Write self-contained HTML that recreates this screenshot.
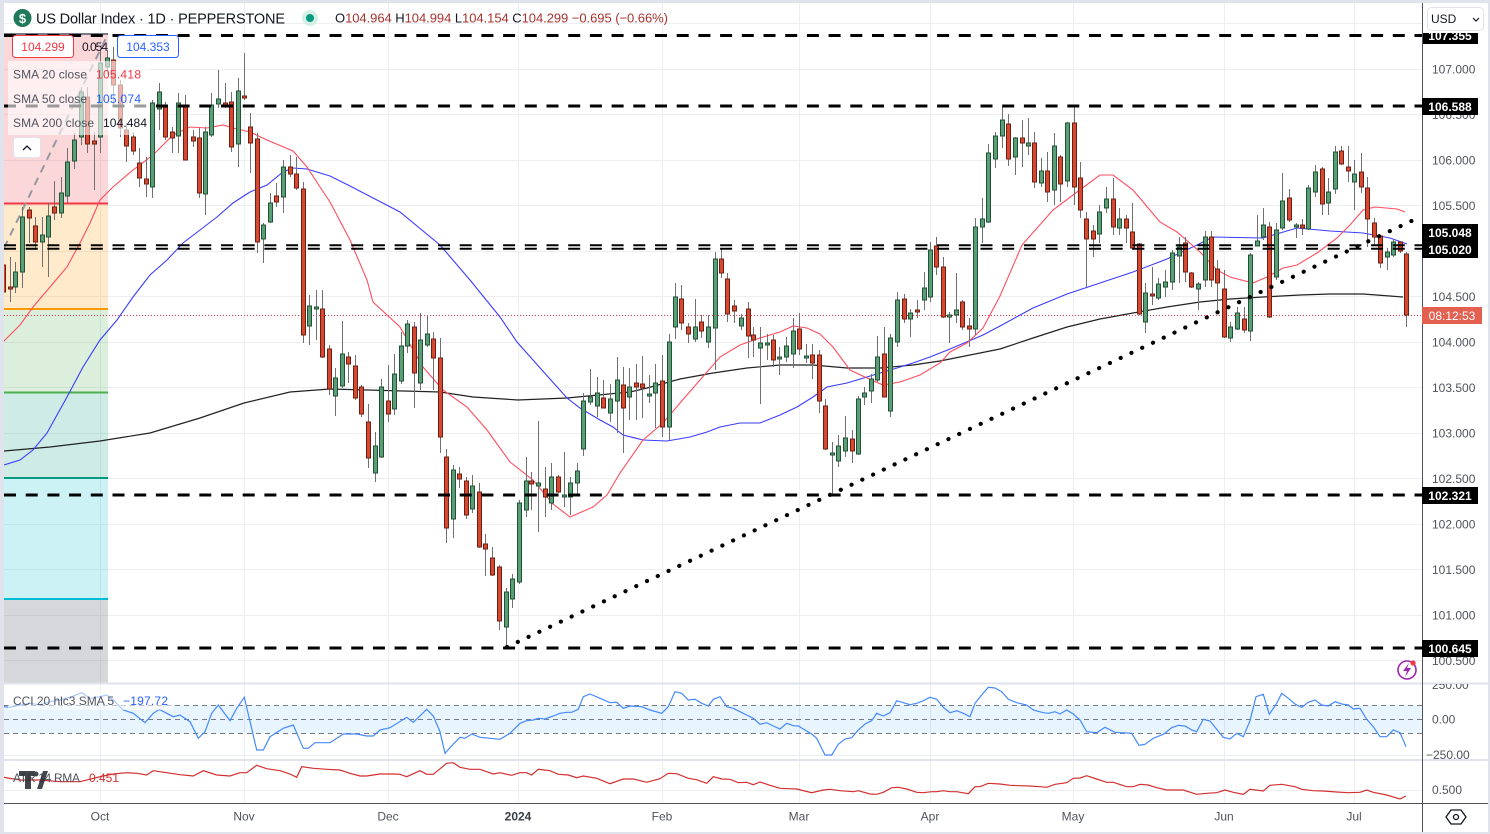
<!DOCTYPE html>
<html><head><meta charset="utf-8">
<style>
html,body{margin:0;padding:0;background:#fff;overflow:hidden;}
svg{display:block;font-family:"Liberation Sans",Arial,sans-serif;}
</style></head><body>
<svg id="svg" width="1490" height="834" viewBox="0 0 1490 834" xmlns="http://www.w3.org/2000/svg">
<defs>
<clipPath id="cm"><rect x="4" y="3" width="1418" height="680"/></clipPath>
<clipPath id="cc"><rect x="4" y="684" width="1418" height="75"/></clipPath>
<clipPath id="ca"><rect x="4" y="761" width="1418" height="41"/></clipPath>
<clipPath id="cax"><rect x="1423" y="33" width="67" height="650"/></clipPath>
<clipPath id="cax2"><rect x="1423" y="684" width="67" height="118"/></clipPath>
</defs>
<rect width="1490" height="834" fill="#fff"/>
<rect x="0" y="0" width="1490" height="3" fill="#e0e3eb"/>
<rect x="0" y="0" width="4" height="834" fill="#e0e3eb"/>
<rect x="1488" y="0" width="2" height="834" fill="#e0e3eb"/>
<rect x="0" y="832" width="1490" height="2" fill="#e0e3eb"/>

<!-- grid -->
<g stroke="#eceef2" stroke-width="1">
<line x1="4" x2="1422" y1="23.5" y2="23.5"/><line x1="4" x2="1422" y1="69.5" y2="69.5"/><line x1="4" x2="1422" y1="114.5" y2="114.5"/><line x1="4" x2="1422" y1="160.5" y2="160.5"/><line x1="4" x2="1422" y1="205.5" y2="205.5"/><line x1="4" x2="1422" y1="251.5" y2="251.5"/><line x1="4" x2="1422" y1="296.5" y2="296.5"/><line x1="4" x2="1422" y1="342.5" y2="342.5"/><line x1="4" x2="1422" y1="387.5" y2="387.5"/><line x1="4" x2="1422" y1="433.5" y2="433.5"/><line x1="4" x2="1422" y1="478.5" y2="478.5"/><line x1="4" x2="1422" y1="524.5" y2="524.5"/><line x1="4" x2="1422" y1="569.5" y2="569.5"/><line x1="4" x2="1422" y1="615.5" y2="615.5"/><line x1="4" x2="1422" y1="660.5" y2="660.5"/>
<line x1="4" x2="1422" y1="755.5" y2="755.5"/><line x1="4" x2="1422" y1="790.5" y2="790.5"/>
<line x1="100.5" x2="100.5" y1="3" y2="803"/><line x1="244.5" x2="244.5" y1="3" y2="803"/><line x1="388.5" x2="388.5" y1="3" y2="803"/><line x1="518.5" x2="518.5" y1="3" y2="803"/><line x1="662.5" x2="662.5" y1="3" y2="803"/><line x1="799.5" x2="799.5" y1="3" y2="803"/><line x1="930.5" x2="930.5" y1="3" y2="803"/><line x1="1073.5" x2="1073.5" y1="3" y2="803"/><line x1="1224.5" x2="1224.5" y1="3" y2="803"/><line x1="1354.5" x2="1354.5" y1="3" y2="803"/>
</g>

<g clip-path="url(#cm)">
<!-- fib -->
<rect x="4" y="34" width="104" height="169" fill="rgba(242,54,69,0.2)"/>
<rect x="4" y="203" width="104" height="106" fill="rgba(255,152,0,0.2)"/>
<rect x="4" y="309" width="104" height="83" fill="rgba(76,175,80,0.2)"/>
<rect x="4" y="392" width="104" height="86" fill="rgba(8,153,129,0.2)"/>
<rect x="4" y="478" width="104" height="121" fill="rgba(0,188,212,0.2)"/>
<rect x="4" y="599" width="104" height="84" fill="rgba(120,123,134,0.3)"/>
<line x1="4" x2="108" y1="34" y2="34" stroke="#787b86" stroke-width="2"/>
<line x1="4" x2="108" y1="203.5" y2="203.5" stroke="#f23645" stroke-width="2"/>
<line x1="4" x2="108" y1="309" y2="309" stroke="#ff9800" stroke-width="2"/>
<line x1="4" x2="108" y1="392.5" y2="392.5" stroke="#4caf50" stroke-width="2"/>
<line x1="4" x2="108" y1="478" y2="478" stroke="#089981" stroke-width="2"/>
<line x1="4" x2="108" y1="599" y2="599" stroke="#00bcd4" stroke-width="2"/>
<line x1="4" y1="248" x2="108" y2="34" stroke="#9598a1" stroke-width="2" stroke-dasharray="8 6"/>

<!-- current price dotted -->
<line x1="4" x2="1422" y1="315.5" y2="315.5" stroke="#f23645" stroke-width="1" stroke-dasharray="1 2"/>

<!-- SMA lines -->
<polyline fill="none" stroke="#222" stroke-width="1.2" points="4,451 50,447 100,441 150,433 200,418 244,403 290,392 330,389 367,390 440,392 473,397 518,400 567,398 630,392 647,388 680,379 713,373 747,368 780,365 813,365 847,368 880,368 913,365 940,361 970,355 1000,349 1033,338 1067,327 1100,319 1133,313 1167,307 1200,302 1230,299 1263,297 1300,295 1330,294 1363,294 1403,297"/>
<polyline fill="none" stroke="#3b3bff" stroke-width="1.1" points="4,465 20,460 33,450 47,433 67,397 83,367 100,340 117,320 133,297 150,275 167,260 183,243 200,230 217,217 233,203 250,192 267,185 283,172 293,168 307,169 330,176 350,186 400,212 440,245 470,280 500,317 517,342 533,360 567,398 580,408 600,420 613,427 623,435 643,440 667,441 690,437 707,432 720,427 740,423 760,423 780,415 797,407 813,397 827,387 847,383 867,377 880,373 897,368 913,363 930,357 950,349 983,335 1000,326 1033,308 1067,294 1100,283 1133,272 1167,259 1197,245 1213,237 1263,238 1297,228 1330,231 1363,233 1390,238 1407,244"/>
<polyline fill="none" stroke="#ff4d5e" stroke-width="1.1" points="3,342 20,325 33,307 50,287 67,267 80,243 90,223 100,200 113,187 133,170 153,155 173,135 190,127 207,128 223,125 233,128 250,132 267,140 293,151 307,167 320,187 330,202 350,240 367,280 373,302 400,327 423,367 443,390 467,407 487,430 510,462 533,480 553,504 570,517 593,507 607,495 620,473 643,440 663,423 680,403 700,380 720,357 740,345 760,338 780,332 793,326 807,328 820,334 833,347 850,370 867,378 883,385 900,382 920,375 940,363 950,352 967,343 983,328 1000,296 1022,245 1053,210 1077,192 1100,175 1113,175 1133,190 1160,222 1177,232 1200,252 1217,270 1230,277 1253,283 1267,277 1283,268 1297,265 1317,253 1337,238 1350,225 1363,210 1375,207 1397,209 1405,212"/>

<g id="candles"></g>

<!-- dashed levels -->
<g stroke="#000" fill="none">
<line x1="4" x2="1422" y1="35.5" y2="35.5" stroke-width="3" stroke-dasharray="12 9.7"/>
<line x1="4" x2="1422" y1="106" y2="106" stroke-width="3" stroke-dasharray="12 9.7"/>
<line x1="4" x2="1422" y1="245.3" y2="245.3" stroke-width="2" stroke-dasharray="12 9.7"/>
<line x1="4" x2="1422" y1="248.8" y2="248.8" stroke-width="2" stroke-dasharray="12 9.7"/>
<line x1="4" x2="1422" y1="495" y2="495" stroke-width="3" stroke-dasharray="12 9.7"/>
<line x1="4" x2="1422" y1="648" y2="648" stroke-width="3" stroke-dasharray="12 9.7"/>
</g>
<!-- dotted trend -->
<line x1="507" y1="647" x2="1422" y2="216" stroke="#000" stroke-width="4.2" stroke-linecap="round" stroke-dasharray="0.1 11.8"/>

<!-- legend overlay -->
<rect x="8" y="61" width="142" height="74" fill="rgba(255,255,255,0.6)"/>
</g>

<!-- legend -->
<rect x="12.5" y="35.5" width="61" height="22" rx="3" fill="#fff" stroke="#f23645"/>
<text x="43" y="51" font-size="12" fill="#f23645" text-anchor="middle">104.299</text>
<text x="82" y="51" font-size="12" fill="#131722" textLength="26">0.054</text>
<rect x="117.5" y="35.5" width="61" height="22" rx="3" fill="#fff" stroke="#2962ff"/>
<text x="148" y="51" font-size="12" fill="#2962ff" text-anchor="middle">104.353</text>
<text x="13" y="78.5" font-size="12" fill="#50535e" textLength="74">SMA 20 close</text>
<text x="96" y="78.5" font-size="12" fill="#f23645" textLength="45">105.418</text>
<text x="13" y="103" font-size="12" fill="#50535e" textLength="74">SMA 50 close</text>
<text x="96" y="103" font-size="12" fill="#2962ff" textLength="45">105.074</text>
<text x="13" y="127" font-size="12" fill="#50535e" textLength="81">SMA 200 close</text>
<text x="103" y="127" font-size="12" fill="#131722" textLength="44">104.484</text>
<rect x="13.5" y="137.5" width="27" height="20" rx="3" fill="#fff" stroke="#e0e3eb"/>
<polyline points="23,150 27,146 31,150" fill="none" stroke="#131722" stroke-width="1.3"/>

<!-- header -->
<circle cx="22.5" cy="18" r="9" fill="#1e7a5a"/>
<text x="22.5" y="23" font-size="13" font-weight="bold" fill="#fff" text-anchor="middle">$</text>
<text x="36" y="23.5" font-size="14.5" fill="#131722" textLength="249">US Dollar Index · 1D · PEPPERSTONE</text>
<circle cx="310" cy="18" r="8" fill="#d4efe5"/>
<circle cx="310" cy="18" r="4" fill="#089981"/>
<text x="335" y="22.5" font-size="13" fill="#131722" textLength="333"><tspan>O</tspan><tspan fill="#a8322d">104.964</tspan><tspan> H</tspan><tspan fill="#a8322d">104.994</tspan><tspan> L</tspan><tspan fill="#a8322d">104.154</tspan><tspan> C</tspan><tspan fill="#a8322d">104.299 −0.695 (−0.66%)</tspan></text>

<!-- CCI panel -->
<g clip-path="url(#cc)">
<rect x="4" y="705" width="1418" height="28" fill="rgba(33,150,243,0.1)"/>
<g stroke="#787b86" stroke-width="1" stroke-dasharray="5 4">
<line x1="4" x2="1422" y1="705.5" y2="705.5"/><line x1="4" x2="1422" y1="719.5" y2="719.5"/><line x1="4" x2="1422" y1="733.5" y2="733.5"/>
</g>
<polyline fill="none" stroke="#448aff" stroke-width="1.2" points="3.3,706.7 10,707.3 20,705 30,703.3 40,705 50,701.7 60,700 71.7,696.7 81.7,692.7 90,698.3 100,696.7 106.7,695 113.3,700 123.3,710 133.3,713.3 145,722.7 153.3,713.3 159.3,709.3 166.7,713.3 173.3,716.7 180,715 190,721.7 198.3,738.3 205,731.7 211.7,713.3 218.3,705 230,720.7 236.7,708.3 244.3,697.3 256.7,750 263.3,750 270,736.7 283.3,728.3 293.3,725 303.3,748.3 308.3,748.3 315,742.7 321.7,742.7 330,742.7 343.3,734 356.7,734 366.7,736 373.3,736 380,730 390,727.7 406.7,717.3 413.3,722.3 426.7,709.3 433.3,716 440,731.7 445,753.3 453.3,744 460,737.3 465,738.3 471.7,734 480,737.3 490,738.3 500,739.3 510,733.3 520,723.3 526.7,720.7 533.3,720 538.3,718.3 545,719 553.3,716 560,713.3 566.7,712.3 571.7,712.3 578.3,709.3 583.3,696.7 590,694 600,698.3 610,702.7 616.7,702.3 623.3,708.3 630,706 641.7,706.7 650,710 661.7,713.3 668.3,706.7 675,691.7 681.7,693.3 688.3,700 695,699.3 701.7,703.3 708.3,706 713.3,699.3 720,696.7 726.7,706.7 733.3,708.3 740,711.7 746.7,715 753.3,718.3 760,724.3 766.7,722.7 773.3,726 780,729 786.7,723.3 793.3,725.7 798.3,726 805,730 811.7,734 816.7,738.3 825,755 831.7,755 838.3,744.3 845,739 851.7,737.7 858.3,730 865,724 871.7,720.7 876.7,713.3 883.3,716 890,712.7 896.7,700.7 903.3,702.7 910,704.7 916.7,703.3 923.3,700.7 930,697.3 936.7,699.3 943.3,707.3 950,712.7 956.7,710.7 963.3,713.3 970,716.7 975,703.3 981.7,695 988.3,687.3 995,688 1001.7,691.7 1008.3,699.3 1016.7,702.7 1026.7,705 1033.3,710 1043.3,712.7 1048.3,713.3 1055,711.7 1060,714 1066.7,710 1073.3,714 1080,720 1086.7,731.7 1096.7,732.7 1105,727.3 1115,732.3 1131.7,733.3 1139,745.3 1145,744.3 1153.3,738.3 1163.3,734.3 1171.7,727.7 1178.3,725.3 1185,726 1191.7,730 1196.7,731.7 1203.3,719.3 1210,721 1216.7,729.3 1223.3,737.3 1230,739 1236.7,733.3 1243.3,736.7 1250,720.7 1256,696.7 1263.3,694.3 1269.3,714.3 1276.7,703.3 1281.7,693.3 1288.3,698.3 1295,704 1301.7,707.3 1308.3,702.3 1315,700 1321.7,705 1328.3,706 1335,701.7 1341.7,704 1348.3,705 1353.3,709 1360,708.3 1366.7,719.3 1373.3,726.7 1380,736.7 1386.7,736.7 1393.3,730 1400,732.7 1406,746.7"/>
<rect x="8" y="691" width="165" height="19" fill="rgba(255,255,255,0.55)"/>
</g>
<text x="13" y="705" font-size="12" fill="#50535e" textLength="101">CCI 20 hlc3 SMA 5</text>
<text x="123" y="705" font-size="12" fill="#2962ff" textLength="45">−197.72</text>

<!-- ATR panel -->
<g clip-path="url(#ca)">
<polyline fill="none" stroke="#d32f2f" stroke-width="1.2" points="0,776.7 20,780 40,780 60,781.7 80,781.7 100,776.7 113.3,774 126.7,772.7 136.7,773.3 146.7,775 153.3,770.7 166.7,772.7 180,774.7 193.3,776 203.3,770.7 216.7,775 230,776 240,772.7 246.7,772.7 256.7,765.3 266.7,768.7 280,770.7 290,774 296.7,777.3 301.7,766.7 313.3,768.3 326.7,769.3 340,770 350,773.3 360,776 366.7,776 380,774 393.3,774 400,774.3 406.7,776.7 420,770.7 426.7,774.3 433.3,774.3 446.7,763.3 453.3,762.7 460,767.3 470,769.3 480,769.3 493.3,774 500,772.7 511.7,775.3 520,772.7 526.7,772.7 531.7,775 538.3,769.3 550,770.7 558.3,774.3 568.3,775 576.7,777.7 583.3,776 596.7,778.3 610,783.7 623.3,779 633.3,779 646.7,782.3 660,778.7 668.3,773.3 676.7,773.7 688.3,778.3 696.7,779.7 706.7,783.3 713.3,776.7 721.7,779 730,779.3 738.3,782.7 746.7,782.3 753.3,784.7 760,782 770,785.3 780,788.3 790,788.7 796.7,789 811.7,792.7 823.3,790 830,789.3 840,790.7 853.3,791.7 858.3,790.7 870,794 876.7,794.3 883.3,792.3 891.7,787.7 898.3,787.3 906.7,789 916.7,792.3 923.3,792.7 931.7,791.7 936.7,791.7 943.3,790.7 950,791.7 956.7,791.7 968.3,793.7 975,786.7 980,786.7 988.3,783.3 1000,784 1010,785.3 1020,785.7 1030,786 1040,786.7 1046.7,787.3 1055,784.3 1066.7,782.7 1073.3,778.3 1080,778 1086.7,775.7 1096.7,779 1106.7,782.3 1113.3,782.3 1126.7,786.7 1133.3,786.7 1140,784.3 1148.3,785 1156.7,787.7 1166.7,790 1183.3,790 1196.7,794.3 1206.7,793.3 1216.7,792.7 1225,790 1233.3,792.3 1243.3,794.3 1250,789.3 1263.3,791 1270,785.3 1281.7,784.3 1295,786.7 1301.7,789.3 1313.3,790.7 1323.3,791 1336.7,792 1348.3,792.7 1360,792.3 1366.7,790 1373.3,792.3 1386.7,795 1400,799 1406,796"/>
</g>
<text x="13" y="782" font-size="12" fill="#50535e" textLength="67">ATR 14 RMA</text>
<text x="89" y="782" font-size="12" fill="#d32f2f" textLength="30">0.451</text>
<g fill="#2f323a" opacity="0.9">
<polygon points="19,771 35,771 35,776 31,776 31,789 25,789 25,776 19,776"/>
<polygon points="37,789 43,771 48,771 42,789"/>
<circle cx="36" cy="774" r="2.5"/>
</g>

<!-- separators -->
<line x1="4" x2="1488" y1="683.5" y2="683.5" stroke="#e0e3eb" stroke-width="2"/>
<line x1="4" x2="1488" y1="760" y2="760" stroke="#e0e3eb" stroke-width="2"/>
<line x1="4" x2="1488" y1="803.5" y2="803.5" stroke="#50535e" stroke-width="1"/>
<line x1="1422.5" x2="1422.5" y1="3" y2="832" stroke="#50535e" stroke-width="1"/>

<!-- price axis -->
<g font-size="12" fill="#50535e" clip-path="url(#cax)">
<text x="1432" y="73.5">107.000</text><text x="1432" y="119">106.500</text><text x="1432" y="164.5">106.000</text><text x="1432" y="210">105.500</text><text x="1432" y="255.5">105.000</text><text x="1432" y="301">104.500</text><text x="1432" y="346.5">104.000</text><text x="1432" y="392">103.500</text><text x="1432" y="437.5">103.000</text><text x="1432" y="483">102.500</text><text x="1432" y="528.5">102.000</text><text x="1432" y="574">101.500</text><text x="1432" y="619.5">101.000</text><text x="1432" y="665">100.500</text>
<rect x="1422" y="27" width="56" height="17" fill="#000"/><text x="1450" y="40" font-weight="bold" fill="#fff" text-anchor="middle">107.355</text>
</g>
<g font-size="12" font-weight="bold" fill="#fff" text-anchor="middle">
<rect x="1422" y="98" width="56" height="17" fill="#000"/><text x="1450" y="111">106.588</text>
<rect x="1422" y="224" width="56" height="17" fill="#000"/><text x="1450" y="237">105.048</text>
<rect x="1422" y="241" width="56" height="17" fill="#000"/><text x="1450" y="254">105.020</text>
<rect x="1422" y="487" width="56" height="17" fill="#000"/><text x="1450" y="500">102.321</text>
<rect x="1422" y="640" width="56" height="17" fill="#000"/><text x="1450" y="653">100.645</text>
<rect x="1422" y="307" width="60" height="17" fill="#e35f4f"/><text x="1452" y="320" font-weight="normal">08:12:53</text>
</g>
<rect x="1427.5" y="7.5" width="56" height="23" rx="4" fill="#fff" stroke="#e0e3eb"/>
<text x="1431" y="23" font-size="12" fill="#131722">USD</text>
<polyline points="1473,18 1476,21 1479,18" fill="none" stroke="#131722" stroke-width="1.2"/>

<!-- CCI/ATR axis -->
<g font-size="12" fill="#50535e" clip-path="url(#cax2)">
<text x="1432" y="689">250.00</text>
<text x="1432" y="723.5">0.00</text>
<text x="1426" y="759">−250.00</text>
<text x="1432" y="794">0.500</text>
</g>

<!-- lightning icon -->
<circle cx="1407" cy="670" r="9" fill="#fff" stroke="#9c27b0" stroke-width="1.6"/>
<polygon points="1409,663 1403,671 1407,671 1405,677 1411,668 1407,668" fill="#9c27b0"/>
<circle cx="1413" cy="663" r="2.6" fill="#f23645"/>

<!-- settings icon -->
<polygon points="1451,810 1461,810 1466,817 1461,824 1451,824 1446,817" fill="none" stroke="#131722" stroke-width="1.3"/>
<circle cx="1456" cy="817" r="2.5" fill="none" stroke="#131722" stroke-width="1.3"/>

<!-- time axis -->
<g font-size="12" fill="#50535e" text-anchor="middle">
<text x="100" y="820.5">Oct</text><text x="244" y="820.5">Nov</text><text x="388" y="820.5">Dec</text><text x="518" y="820.5" font-weight="bold" fill="#3a3d45">2024</text><text x="662" y="820.5">Feb</text><text x="799" y="820.5">Mar</text><text x="930" y="820.5">Apr</text><text x="1073" y="820.5">May</text><text x="1224" y="820.5">Jun</text><text x="1354" y="820.5">Jul</text>
</g>
</svg>
<script>
const C=[
[3,'r',265,292,258,300],[9.5,'r',287,289,257,302],[15,'g',272,287,262,293],[22,'g',217,272,207,288],[28.7,'r',210,218,207,243],[35,'r',226,242,217,250],[41.7,'g',235,242,217,267],[48.3,'g',216,237,203,277],[54.3,'r',207,213,181,220],[61,'g',193,213,177,218],[67.3,'g',162,196,148,203],[74,'g',140,161,133,169],[81,'g',92,137,87,145],[87.3,'r',97,144,87,153],[94.3,'r',141,144,132,190],[100,'g',63,137,50,153],[106.7,'g',58,67,50,75],[113.3,'r',60,85,47,107],[120,'r',85,128,80,137],[126,'r',130,146,123,162],[133.3,'r',137,151,132,155],[139.3,'r',163,178,148,187],[146,'r',179,184,157,197],[152.3,'g',103,187,100,198],[159.3,'g',92,109,83,130],[165.3,'r',105,137,102,140],[172.3,'r',132,138,127,153],[178.3,'g',103,136,93,153],[185.3,'r',106,160,95,160],[192.7,'r',137,141,130,147],[198.7,'r',138,193,128,198],[205.3,'g',132,194,127,215],[211.3,'g',105,135,93,137],[218.3,'g',99,104,70,108],[224.7,'r',103,105,83,108],[231,'r',102,147,92,152],[237.7,'g',91,144,78,167],[244.3,'r',96,98,53,100],[250.3,'r',127,143,113,173],[257.3,'r',139,242,133,253],[263.3,'g',225,239,223,263],[270,'g',203,222,193,223],[276.3,'r',196,202,183,207],[283.3,'g',167,197,160,213],[290.3,'r',167,174,155,177],[296.3,'r',174,188,157,190],[303.3,'r',189,335,182,343],[309.3,'g',306,326,295,345],[316,'g',307,309,290,340],[322,'r',309,357,290,358],[329.3,'r',349,389,345,395],[335.3,'g',378,396,368,416],[342.3,'g',354,386,321,388],[348.3,'r',357,364,352,383],[355.3,'r',366,398,355,400],[361.3,'r',387,414,385,417],[368.3,'r',422,458,404,468],[374.7,'g',446,473,432,482],[381,'g',387,457,379,458],[388.3,'r',401,414,365,422],[394.3,'g',374,409,354,415],[401,'g',346,381,332,384],[407.3,'g',324,346,320,353],[414,'r',327,373,322,408],[420.3,'g',340,383,313,390],[427,'g',334,345,316,347],[433.3,'r',339,358,332,390],[440.3,'r',358,437,338,453],[446,'r',457,528,449,543],[453.3,'g',470,519,465,538],[459.3,'r',474,479,467,488],[466,'r',481,515,477,519],[472.3,'g',486,509,475,513],[479.3,'r',492,547,483,548],[485.3,'r',544,549,534,576],[492.3,'r',558,575,547,576],[499.3,'r',567,621,565,630],[505.7,'g',592,627,588,647],[512.3,'g',579,599,574,608],[518.7,'g',503,582,500,584],[525.7,'g',481,510,457,517],[531.3,'r',481,484,472,510],[538.3,'g',483,486,421,532],[544.7,'r',489,497,467,517],[551.3,'g',477,503,463,510],[557.7,'r',477,492,475,493],[564.3,'g',495,497,452,507],[570.3,'g',483,497,477,515],[577.3,'g',471,483,463,495],[583.3,'g',401,449,393,456],[590,'g',397,402,369,405],[597,'g',393,406,377,417],[603.3,'r',398,408,380,408],[610,'g',399,413,384,422],[616.5,'g',380,401,357,433],[623,'r',385,408,367,453],[629.3,'g',387,397,368,420],[636,'r',383,387,364,420],[642.3,'r',384,388,356,418],[649.3,'g',394,396,375,403],[655.3,'g',383,393,364,428],[662.3,'r',381,427,355,437],[668.7,'g',342,427,334,440],[675.3,'g',297,327,283,339],[681.3,'r',299,323,285,330],[688.3,'r',327,334,323,343],[695.3,'g',327,339,299,342],[701.3,'r',322,331,315,338],[708.3,'g',327,342,315,348],[714.7,'g',259,328,252,370],[721.3,'r',259,273,249,278],[727.3,'r',279,314,273,322],[734.3,'r',306,311,300,323],[740.7,'g',318,326,314,330],[747.7,'r',309,336,302,358],[753.3,'r',335,340,327,357],[760.3,'g',343,348,327,404],[766.7,'g',343,345,334,360],[773.3,'r',340,360,335,367],[779.3,'g',357,359,347,375],[786,'g',346,357,337,362],[792.7,'g',331,354,318,368],[799,'r',329,349,313,355],[806,'g',356,358,344,363],[812.3,'r',355,363,344,379],[819,'r',355,401,350,413],[825.3,'r',406,449,399,450],[832.3,'g',453,455,442,495],[838.3,'g',446,461,435,467],[845.3,'g',438,451,416,457],[851.7,'r',439,451,430,463],[858.3,'g',399,454,396,455],[864.3,'g',393,397,387,405],[871,'g',379,391,374,403],[877.3,'g',357,380,336,382],[884.3,'r',354,397,327,397],[890.3,'g',338,411,334,417],[897.3,'g',300,342,292,347],[904,'r',299,319,294,323],[910.3,'g',313,319,309,337],[917,'r',310,312,300,318],[923.7,'g',288,300,272,310],[930.3,'g',250,297,242,302],[936,'r',246,267,237,275],[943,'r',267,317,257,318],[949.3,'g',315,317,312,343],[956,'g',310,315,273,323],[962.3,'r',302,327,300,330],[969,'r',326,329,318,347],[975.3,'g',227,329,218,335],[982,'g',219,227,198,243],[988.3,'g',153,222,144,223],[995,'g',136,159,132,168],[1002,'g',120,136,107,148],[1008.3,'r',124,159,114,166],[1015.3,'g',138,157,137,175],[1021.7,'r',138,143,120,167],[1028,'g',143,146,118,155],[1034.3,'r',143,182,132,188],[1041.3,'g',171,183,158,187],[1047.3,'r',171,192,152,202],[1054.3,'g',146,190,133,205],[1060.3,'r',157,184,155,202],[1067.3,'g',123,181,122,187],[1073.7,'r',123,187,107,205],[1080.3,'r',178,210,162,218],[1086.3,'r',219,239,212,287],[1093.3,'r',231,239,225,257],[1099.3,'g',212,234,205,243],[1106.3,'g',199,208,187,213],[1113.3,'r',199,227,178,235],[1119.3,'g',219,228,208,235],[1126.3,'r',219,228,215,243],[1132.3,'r',232,248,203,250],[1139.3,'r',244,314,243,315],[1145.3,'g',293,322,283,333],[1152.3,'r',294,296,267,305],[1158.3,'g',284,298,278,300],[1165.3,'g',282,287,270,297],[1171.7,'g',253,282,250,290],[1178.5,'g',247,256,237,283],[1184.5,'r',243,272,237,282],[1191.3,'r',273,287,272,288],[1197.5,'g',284,289,282,310],[1204.7,'g',237,280,231,287],[1211,'r',237,280,231,287],[1217.3,'r',269,283,260,310],[1224.3,'r',289,337,270,338],[1230.3,'g',327,338,322,342],[1237.3,'g',313,329,307,330],[1243.7,'r',319,330,307,333],[1250.3,'g',255,331,253,341],[1256.7,'g',241,246,215,245],[1263.3,'g',225,237,208,240],[1269.3,'r',227,317,222,318],[1276.3,'g',230,277,223,280],[1282.3,'g',201,228,173,230],[1289.3,'r',198,220,189,222],[1295.7,'g',225,227,223,238],[1302.3,'r',225,228,219,235],[1308.3,'g',188,229,185,230],[1315.3,'g',172,192,165,197],[1322,'r',169,204,167,215],[1328.3,'g',192,203,178,215],[1335.3,'g',152,189,146,194],[1341.3,'r',151,164,146,165],[1348.3,'r',167,171,146,182],[1354.3,'g',174,182,160,210],[1361.3,'r',172,187,153,193],[1367.3,'r',188,219,177,247],[1374.3,'r',223,237,218,245],[1380.3,'r',236,263,235,268],[1387.3,'g',252,257,248,270],[1393.3,'g',242,255,240,257],[1400.3,'r',242,251,241,253],[1406.3,'r',254,315,252,327]
];
const NS="http://www.w3.org/2000/svg";
const g=document.getElementById('candles');
for(const [x,t,bt,bb,wt,wb] of C){
  const cx=Math.round(x)+0.5;
  const l=document.createElementNS(NS,'line');
  l.setAttribute('x1',cx);l.setAttribute('x2',cx);
  l.setAttribute('y1',Math.min(wt,bt));l.setAttribute('y2',Math.max(wb,bb));
  l.setAttribute('stroke','#707070');l.setAttribute('stroke-width','1');
  g.appendChild(l);
  const r=document.createElementNS(NS,'rect');
  r.setAttribute('x',cx-2);r.setAttribute('width',4);
  r.setAttribute('y',bt);r.setAttribute('height',Math.max(1,bb-bt));
  r.setAttribute('fill',t==='g'?'#5b9d75':'#d6482f');
  r.setAttribute('stroke',t==='g'?'#1f5236':'#6e1f14');
  r.setAttribute('stroke-width','1');
  g.appendChild(r);
}
</script>
</body></html>
